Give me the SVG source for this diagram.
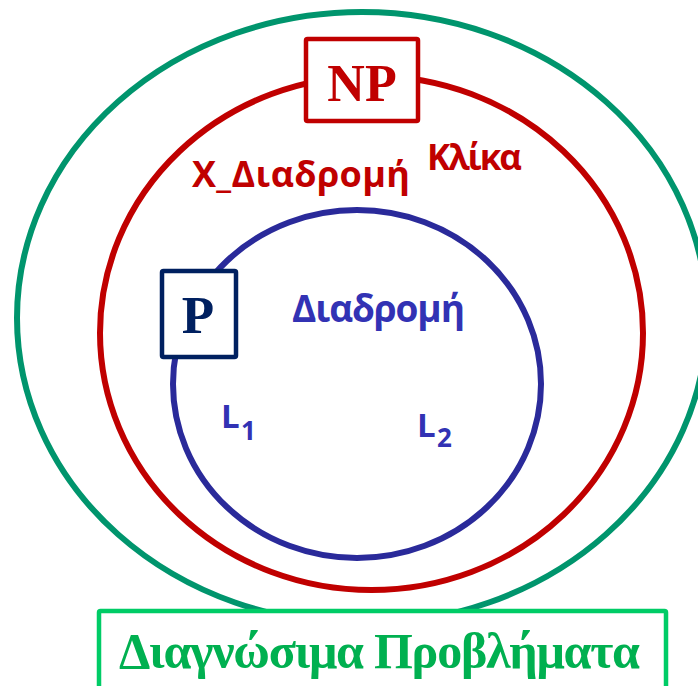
<svg xmlns="http://www.w3.org/2000/svg" width="698" height="686" viewBox="0 0 698 686">
<style>
.set{fill:none;stroke-width:6}
.box{fill:#ffffff;stroke-width:4.5}
.sans{font-family:"Open Sans","Noto Sans","DejaVu Sans",sans-serif;font-weight:700}
.serif{font-family:"Liberation Serif","Times New Roman",serif;font-weight:700}
.red{fill:#C00000}
.blue{fill:#3232B4}
</style>
<rect width="698" height="686" fill="#ffffff"/>
<g id="decidable">
<ellipse class="set" cx="362" cy="318" rx="345" ry="306" stroke="#00956D"/>
</g>
<g id="np">
<ellipse class="set" cx="371.5" cy="333" rx="271.5" ry="257" stroke="#C00000"/>
<text class="sans red" x="192" y="187" font-size="36" textLength="218">X_Διαδρομή</text>
<text class="sans red" x="427" y="170" font-size="35" textLength="95">Κλίκα</text>
</g>
<g id="p">
<ellipse class="set" cx="357" cy="384" rx="184" ry="174" stroke="#2A2A9A"/>
<text class="sans blue" x="292" y="322" font-size="37" textLength="173">Διαδρομή</text>
</g>
<g id="np-label">
<rect class="box" x="306" y="39" width="112" height="82" rx="1.5" stroke="#C00000"/>
<text class="serif red" x="362" y="101" font-size="52" text-anchor="middle">NP</text>
</g>
<g id="p-label">
<rect class="box" x="162" y="271" width="74" height="86" rx="1.5" stroke="#002060"/>
<text class="serif" x="198" y="333" font-size="53" text-anchor="middle" fill="#002060">P</text>
</g>
<g id="l1">
<text class="sans blue" x="221" y="428" font-size="33">L</text>
<text class="sans blue" x="241" y="440" font-size="26">1</text>
</g>
<g id="l2">
<text class="sans blue" x="417" y="437" font-size="33">L</text>
<text class="sans blue" x="437" y="447" font-size="26">2</text>
</g>
<g id="decidable-label">
<rect class="box" x="99" y="611" width="567" height="90" rx="1.5" stroke="#00CC66"/>
<text class="serif" x="119" y="668" font-size="50" textLength="521" fill="#00B050">Διαγνώσιμα Προβλήματα</text>
</g>
</svg>
